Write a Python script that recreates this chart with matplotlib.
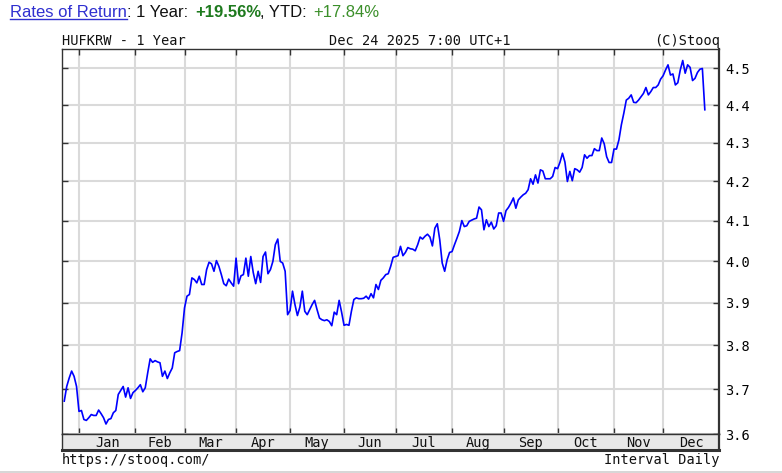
import numpy as np
import pandas as pd
import matplotlib

matplotlib.use("Agg")
import matplotlib.pyplot as plt
from matplotlib.lines import Line2D
from matplotlib.ticker import FixedLocator, NullLocator, FuncFormatter
from matplotlib.transforms import blended_transform_factory

# HUFKRW daily closes, one value per business day from 2024-12-24
START_DATE = "2024-12-24"
rate = [
    3.673, 3.706, 3.725, 3.741, 3.729, 3.706, 3.650, 3.652, 3.632, 3.630,
    3.636, 3.643, 3.641, 3.641, 3.653, 3.645, 3.636, 3.622, 3.632, 3.634,
    3.647, 3.652, 3.688, 3.697, 3.706, 3.682, 3.703, 3.679, 3.692, 3.697,
    3.703,
    3.710, 3.694, 3.703, 3.737, 3.769, 3.761, 3.765, 3.762, 3.760, 3.729,
    3.741, 3.724, 3.737, 3.748, 3.783, 3.786, 3.788, 3.829, 3.888, 3.916,
    3.920, 3.960, 3.956, 3.948, 3.964, 3.944, 3.944, 3.980, 3.998, 3.994,
    3.976, 4.002, 3.988, 3.968, 3.946, 3.941, 3.957, 3.948, 3.940, 4.008,
    3.946, 3.965, 3.968, 4.008, 3.964, 4.012, 3.973, 3.946, 3.976, 3.949,
    4.012, 4.023, 3.970, 3.980, 4.000, 4.041, 4.055, 4.000, 3.996, 3.976,
    3.872, 3.882, 3.928, 3.896, 3.870, 3.890, 3.928, 3.880, 3.872, 3.884,
    3.896, 3.906, 3.884, 3.864, 3.860, 3.858, 3.860, 3.856, 3.846, 3.878, 3.872,
    3.906, 3.878, 3.847, 3.849, 3.847, 3.880, 3.908, 3.912, 3.910, 3.910, 3.911,
    3.916, 3.909, 3.922, 3.912, 3.944, 3.932, 3.954, 3.960, 3.968, 3.970,
    3.988, 4.010, 4.012, 4.014, 4.037, 4.014, 4.022, 4.034, 4.031, 4.030,
    4.026, 4.041, 4.060, 4.055, 4.062, 4.067, 4.060, 4.038, 4.082, 4.093, 4.053,
    3.996, 3.976, 4.004, 4.022, 4.024, 4.041, 4.057, 4.074, 4.101, 4.086,
    4.088, 4.099, 4.102, 4.105, 4.107, 4.135, 4.128, 4.078, 4.103, 4.086,
    4.097, 4.080, 4.088, 4.120, 4.120, 4.099, 4.126, 4.134, 4.145, 4.158,
    4.132, 4.153, 4.160, 4.166, 4.170, 4.179, 4.207, 4.193, 4.217, 4.196, 4.230,
    4.227, 4.207, 4.207, 4.207, 4.213, 4.236, 4.233, 4.250, 4.273, 4.250,
    4.200, 4.226, 4.202, 4.233, 4.230, 4.224, 4.236, 4.269, 4.260, 4.267,
    4.267, 4.285, 4.280, 4.280, 4.313, 4.298, 4.264, 4.249, 4.249, 4.284,
    4.284, 4.308, 4.348, 4.379, 4.414, 4.419, 4.428, 4.408, 4.407, 4.414,
    4.423, 4.432, 4.448, 4.428, 4.437, 4.448, 4.448, 4.455, 4.471, 4.480,
    4.496, 4.510, 4.482, 4.485, 4.455, 4.461, 4.496, 4.522, 4.487, 4.510,
    4.503, 4.467, 4.473, 4.489, 4.498, 4.500, 4.388,
]
y_ticks = [3.6, 3.7, 3.8, 3.9, 4.0, 4.1, 4.2, 4.3, 4.4, 4.5]
month_names = ["Jan", "Feb", "Mar", "Apr", "May", "Jun",
               "Jul", "Aug", "Sep", "Oct", "Nov", "Dec"]

W, H = 782, 473
MONO = "DejaVu Sans Mono"
SANS = "Liberation Sans"
DARK = "#333333"

dates = pd.bdate_range(START_DATE, periods=len(rate))
x = np.arange(len(rate))
month_start = [i for i in range(1, len(dates)) if dates[i].month != dates[i - 1].month]


def px_box(x0, y0, x1, y1):
    # pixel box measured from the top-left corner -> figure fraction
    return [x0 / W, 1 - y1 / H, (x1 - x0) / W, (y1 - y0) / H]


def fx(px):
    return px / W


def fy(py):
    return 1 - py / H


fig = plt.figure(figsize=(W / 100, H / 100), dpi=100, facecolor="white")
ax = fig.add_axes(px_box(62.3, 49.3, 719.3, 434))
band = fig.add_axes(px_box(62.3, 434, 719.3, 449.5), sharex=ax)

ax.plot(x, rate, color="#0000ff", lw=1.2, zorder=3)

ax.set_yscale("log")
ax.set_ylim(3.6, 4.553)
ax.set_xlim(-0.8, 266.9)
ax.yaxis.set_major_locator(FixedLocator(y_ticks))
ax.yaxis.set_minor_locator(NullLocator())
ax.yaxis.set_major_formatter(FuncFormatter(lambda v, _: f"{v:.1f}"))
ax.set_xticks(month_start)
ax.set_axisbelow(True)
ax.grid(True, color="#dadada", lw=1.5)

ax.tick_params(axis="y", which="major", direction="in", length=4, width=1, color=DARK,
               left=True, right=True, labelleft=False, labelright=True,
               labelsize=9.8, pad=4)
for lab in ax.get_yticklabels():
    lab.set_fontfamily(MONO)
ax.tick_params(axis="x", direction="in", length=4, width=1, color=DARK,
               top=True, bottom=True, labelbottom=False)
for side in ("top", "left", "bottom"):
    ax.spines[side].set_color(DARK)
    ax.spines[side].set_linewidth(1)
ax.spines["right"].set_color(DARK)
ax.spines["right"].set_linewidth(1.6)

# month band under the plot
band.set_facecolor("#e8e8e8")
band.tick_params(axis="x", length=0, labelbottom=False)
band.tick_params(axis="y", length=0, labelleft=False)
band.set_yticks([])
for side in ("top", "left", "right"):
    band.spines[side].set_color(DARK)
    band.spines[side].set_linewidth(1)
band.spines["right"].set_linewidth(1.6)
band.spines["bottom"].set_color(DARK)
band.spines["bottom"].set_linewidth(2.2)
trans = blended_transform_factory(band.transData, band.transAxes)
edges = month_start + [ax.get_xlim()[1]]
for name, a, b in zip(month_names, edges[:-1], edges[1:]):
    band.text((a + b) / 2, 0.45, name, transform=trans, ha="center", va="center",
              fontsize=9.8, family=MONO, color="#111111")

# header
fig.text(fx(10), fy(17), "Rates of Return", color="#2f2fd0", fontsize=12, family=SANS, va="baseline")
fig.add_artist(Line2D([fx(10), fx(127)], [fy(19)] * 2, color="#2f2fd0", lw=1))
fig.text(fx(127), fy(17), ": 1 Year:", color="#111111", fontsize=12, family=SANS, va="baseline")
fig.text(fx(195), fy(17), "+19.56%", color="#1e7a1e", fontsize=12, family=SANS,
         fontweight="bold", va="baseline")
fig.text(fx(260), fy(17), ", YTD:", color="#111111", fontsize=12, family=SANS, va="baseline")
fig.text(fx(313), fy(17), "+17.84%", color="#3b8f2a", fontsize=12, family=SANS, va="baseline")

fig.text(fx(62), fy(45), "HUFKRW - 1 Year", fontsize=9.8, family=MONO, color="#111111", va="baseline")
fig.text(fx(329), fy(45), "Dec 24 2025 7:00 UTC+1", fontsize=9.8, family=MONO, color="#111111", va="baseline")
fig.text(fx(720), fy(45), "(C)Stooq", fontsize=9.8, family=MONO, color="#111111", va="baseline", ha="right")

fig.text(fx(62), fy(464), "https://stooq.com/", fontsize=9.8, family=MONO, color="#111111", va="baseline")
fig.text(fx(720), fy(464), "Interval Daily", fontsize=9.8, family=MONO, color="#111111", va="baseline", ha="right")
fig.add_artist(Line2D([0, 1], [fy(471.5)] * 2, color="#d0d0d0", lw=1.2))

fig.savefig("out.png", dpi=100, facecolor="white")
